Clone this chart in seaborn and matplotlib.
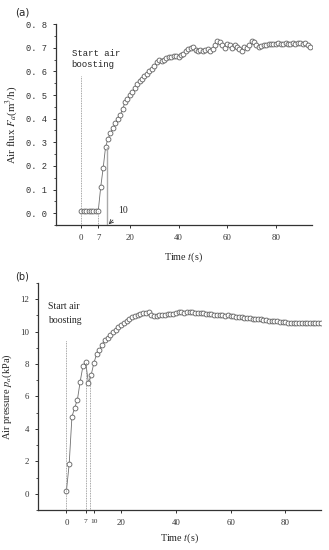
import numpy as np
import pandas as pd
import matplotlib
matplotlib.use('Agg')
import matplotlib.pyplot as plt
import seaborn as sns
from matplotlib.ticker import MultipleLocator

# data
time_a = list(range(0, 95))
flux = [0.01] * 8 + [
    0.11, 0.19, 0.28, 0.315, 0.338, 0.36, 0.38, 0.40, 0.415, 0.44,
    0.47, 0.485, 0.50, 0.515, 0.53, 0.545, 0.56, 0.57, 0.58, 0.59,
    0.60, 0.61, 0.625, 0.64, 0.65, 0.645, 0.65, 0.655, 0.66, 0.66,
    0.665, 0.665, 0.66, 0.67, 0.675, 0.685, 0.695, 0.70, 0.705, 0.69,
    0.685, 0.69, 0.685, 0.69, 0.695, 0.685, 0.695, 0.71, 0.73, 0.725,
    0.71, 0.70, 0.715, 0.71, 0.70, 0.71, 0.705, 0.695, 0.685, 0.705,
    0.70, 0.71, 0.73, 0.725, 0.71, 0.705, 0.708, 0.71, 0.712, 0.715,
    0.715, 0.718, 0.716, 0.72, 0.718, 0.715, 0.72, 0.718, 0.715, 0.72,
    0.718, 0.72, 0.72, 0.715, 0.72, 0.71, 0.705]

time_b = list(range(0, 94))
pressure = [
    0.2, 1.85, 4.75, 5.3, 5.8, 6.9, 7.85, 8.15, 6.85, 7.3,
    8.05, 8.6, 8.85, 9.2, 9.5, 9.62, 9.78, 9.95, 10.1, 10.25,
    10.4, 10.55, 10.66, 10.78, 10.88, 10.98, 11.05, 11.1, 11.14, 11.16,
    11.22, 11.05, 10.98, 10.98, 11.0, 11.02, 11.05, 11.08, 11.1, 11.1,
    11.15, 11.18, 11.18, 11.15, 11.18, 11.2, 11.18, 11.15, 11.15, 11.13,
    11.12, 11.1, 11.1, 11.08, 11.05, 11.02, 11.0, 11.0, 10.98, 11.0,
    10.98, 10.95, 10.92, 10.9, 10.88, 10.85, 10.85, 10.82, 10.8, 10.78,
    10.75, 10.75, 10.72, 10.7, 10.68, 10.66, 10.65, 10.62, 10.6, 10.58,
    10.56, 10.55, 10.52, 10.5, 10.5, 10.5, 10.5, 10.5, 10.5, 10.5,
    10.5, 10.5, 10.5, 10.5]

ticks_a = [0, 7, 20, 40, 60, 80]
ticks_b = [0, 7, 10, 20, 40, 60, 80]

sns.set_style('ticks')
plt.rcParams['font.family'] = ['Liberation Serif', 'DejaVu Serif']
plt.rcParams['mathtext.fontset'] = 'stix'
plt.rcParams['xtick.direction'] = 'out'
plt.rcParams['ytick.direction'] = 'out'

fig = plt.figure(figsize=(3.29, 5.5), dpi=100)
ax1 = fig.add_axes([0.170, 0.591, 0.778, 0.365])
ax2 = fig.add_axes([0.1155, 0.0727, 0.860, 0.413])

line_kw = dict(marker='o', markersize=3.5, markerfacecolor='white',
               markeredgecolor='#5f5f5f', markeredgewidth=0.6,
               color='#6f6f6f', linewidth=0.6)

dfa = pd.DataFrame({'t': time_a, 'v': flux})
dfb = pd.DataFrame({'t': time_b, 'v': pressure})
sns.lineplot(data=dfa, x='t', y='v', ax=ax1, **line_kw)
sns.lineplot(data=dfb, x='t', y='v', ax=ax2, **line_kw)

for ax in (ax1, ax2):
    sns.despine(ax=ax)
    ax.spines['left'].set_linewidth(0.9)
    ax.spines['bottom'].set_linewidth(0.9)
    ax.spines['left'].set_color('#333333')
    ax.spines['bottom'].set_color('#333333')
    ax.tick_params(which='major', length=2.5, width=0.7, colors='#333333',
                   labelsize=6.3, pad=4)
    ax.tick_params(which='minor', length=1.5, width=0.6, colors='#333333')
    ax.tick_params(axis='x', which='minor', bottom=False)

# panel (a)
ax1.set_xlim(-10.4, 94.8)
ax1.set_ylim(-0.05, 0.8)
ax1.set_xticks(ticks_a)
ax1.set_yticks(np.arange(0, 0.81, 0.1))
ax1.yaxis.set_minor_locator(MultipleLocator(0.05))
ax1.set_yticklabels(['0. %d' % i for i in range(9)], family='Liberation Mono')
ax1.vlines(0, -0.05, 0.58, colors='#888888', linestyles=(0, (1, 1)), linewidth=0.6)
ax1.vlines(7, -0.05, 0.01, colors='#888888', linestyles=(0, (1, 1)), linewidth=0.6)
ax1.vlines(10.4, -0.05, 0.28, colors='#aaaaaa', linewidth=1.0)
ax1.text(-4, 0.675, 'Start air', family='Liberation Mono', fontsize=6.5, va='center')
ax1.text(-4, 0.63, 'boosting', family='Liberation Mono', fontsize=6.5, va='center')
ax1.annotate('10', xy=(11.3, -0.047), xytext=(15.0, 0.012), fontsize=7,
             va='center', ha='left',
             arrowprops=dict(arrowstyle='->', color='#333333', lw=0.6,
                             shrinkA=2, shrinkB=0))
ax1.set_xlabel('Time $t$(s)', fontsize=7.3, labelpad=6)
ax1.set_ylabel('Air flux $F_a$(m$^3$/h)', fontsize=7.8, labelpad=4)
fig.text(0.045, 0.978, '(a)', family='DejaVu Sans', fontsize=7.5, va='center')

# panel (b)
ax2.set_xlim(-10.4, 93)
ax2.set_ylim(-1, 13)
ax2.set_xticks(ticks_b)
ax2.set_xticklabels([str(t) for t in ticks_b])
for lab in ax2.get_xticklabels():
    if lab.get_text() in ('7', '10'):
        lab.set_fontsize(5.3)
ax2.set_yticks(range(0, 13, 2))
ax2.yaxis.set_minor_locator(MultipleLocator(1))
ax2.vlines(0, -1, 9.5, colors='#888888', linestyles=(0, (1, 1)), linewidth=0.6)
ax2.vlines(7, -1, 8.15, colors='#888888', linestyles=(0, (1, 1)), linewidth=0.6)
ax2.vlines(8.7, -1, 7.3, colors='#888888', linestyles=(0, (1, 1)), linewidth=0.6)
ax2.text(-6.7, 11.55, 'Start air', fontsize=7, va='center')
ax2.text(-6.7, 10.7, 'boosting', fontsize=7, va='center')
ax2.set_xlabel('Time $t$(s)', fontsize=7.3, labelpad=3)
ax2.set_ylabel('Air pressure $p_a$(kPa)', fontsize=7.5, labelpad=4)
fig.text(0.045, 0.498, '(b)', family='DejaVu Sans', fontsize=7, va='center')

fig.savefig('out.png', dpi=100)
